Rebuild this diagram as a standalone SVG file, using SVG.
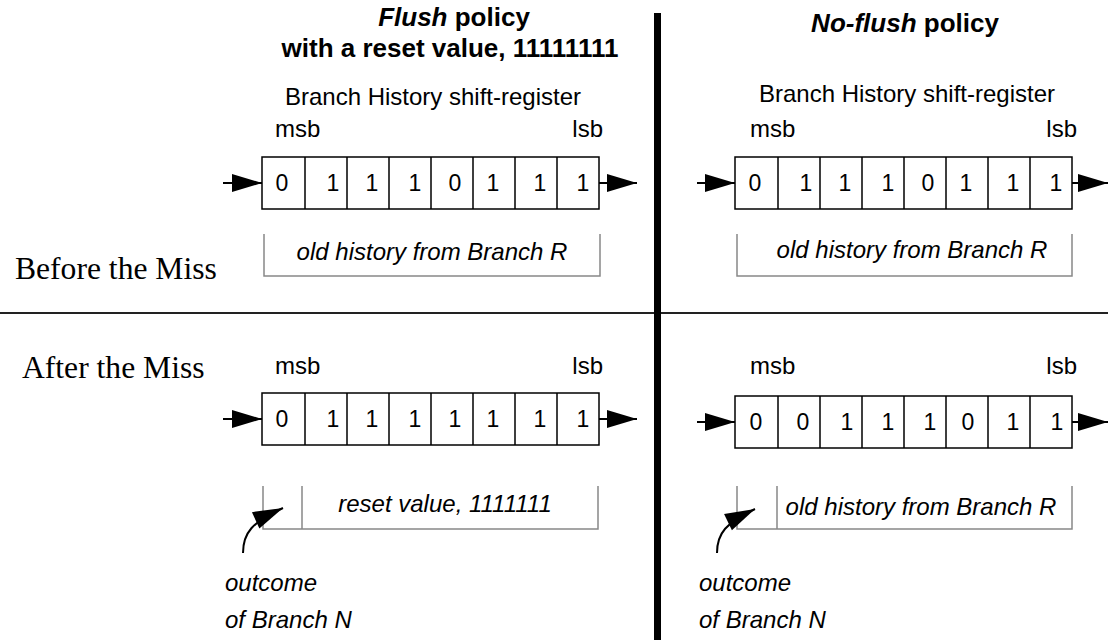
<svg xmlns="http://www.w3.org/2000/svg" width="1108" height="640" viewBox="0 0 1108 640">
  <style>
    .sans { font-family: "Liberation Sans", Arial, sans-serif; fill: #000; }
    .serif { font-family: "Liberation Serif", "Times New Roman", serif; font-size: 31.6px; fill: #000; }
    .lbl { font-size: 24px; }
    .it { font-style: italic; }
    .bold { font-weight: bold; font-size: 26px; }
    .digit { font-size: 23px; text-anchor: middle; }
    .reg { fill: #fff; stroke: #000; stroke-width: 1.5; }
    .cell { stroke: #000; stroke-width: 1.5; }
    .brk { fill: none; stroke: #888; stroke-width: 1.5; }
    .arr { fill: none; stroke: #000; stroke-width: 2; marker-end: url(#head); }
  </style>
  <defs>
    <marker id="head" markerUnits="userSpaceOnUse" markerWidth="30" markerHeight="18" refX="30" refY="9" orient="auto" overflow="visible">
      <path d="M0,0 L30,9 L0,18 z" fill="#000"/>
    </marker>
    <!-- eight-cell shift register, origin at top-left corner -->
    <g id="register">
      <rect class="reg" x="0" y="0" width="337" height="52"/>
      <path class="cell" d="M43,0V52 M85,0V52 M127,0V52 M169,0V52 M211,0V52 M253,0V52 M295,0V52"/>
    </g>
  </defs>

  <!-- dividers -->
  <g id="dividers">
    <line x1="0" y1="313" x2="1108" y2="313" stroke="#222" stroke-width="2"/>
    <rect x="654" y="13" width="7" height="627" fill="#000"/>
  </g>

  <!-- row labels -->
  <g id="row-labels">
    <text class="serif" x="15" y="279">Before the Miss</text>
    <text class="serif" x="22" y="378">After the Miss</text>
  </g>

  <!-- column headings -->
  <g id="heading-flush">
    <text class="sans bold" x="454" y="26" text-anchor="middle"><tspan class="it">Flush</tspan> policy</text>
    <text class="sans bold" x="450" y="57" text-anchor="middle">with a reset value, 11111111</text>
  </g>
  <g id="heading-noflush">
    <text class="sans bold" x="905" y="32" text-anchor="middle"><tspan class="it">No-flush</tspan> policy</text>
  </g>

  <!-- flush policy, before the miss -->
  <g id="flush-before">
    <text class="sans lbl" x="433" y="105" text-anchor="middle">Branch History shift-register</text>
    <text class="sans lbl" x="275" y="137">msb</text>
    <text class="sans lbl" x="603" y="137" text-anchor="end">lsb</text>
    <use href="#register" x="262" y="157"/>
    <g class="sans digit">
      <text x="282" y="191">0</text><text x="333" y="191">1</text><text x="372" y="191">1</text><text x="415" y="191">1</text>
      <text x="455" y="191">0</text><text x="493" y="191">1</text><text x="540" y="191">1</text><text x="583" y="191">1</text>
    </g>
    <path class="brk" d="M264,234V276H600V234"/>
    <text class="sans lbl it" x="432" y="260" text-anchor="middle">old history from Branch R</text>
  </g>

  <!-- no-flush policy, before the miss -->
  <g id="noflush-before">
    <text class="sans lbl" x="907" y="102" text-anchor="middle">Branch History shift-register</text>
    <text class="sans lbl" x="750" y="137">msb</text>
    <text class="sans lbl" x="1077" y="137" text-anchor="end">lsb</text>
    <use href="#register" x="735" y="157"/>
    <g class="sans digit">
      <text x="755" y="191">0</text><text x="806" y="191">1</text><text x="845" y="191">1</text><text x="888" y="191">1</text>
      <text x="928" y="191">0</text><text x="966" y="191">1</text><text x="1013" y="191">1</text><text x="1056" y="191">1</text>
    </g>
    <path class="brk" d="M737,234V276H1072V234"/>
    <text class="sans lbl it" x="912" y="258" text-anchor="middle">old history from Branch R</text>
  </g>

  <!-- flush policy, after the miss -->
  <g id="flush-after">
    <text class="sans lbl" x="275" y="374">msb</text>
    <text class="sans lbl" x="603" y="374" text-anchor="end">lsb</text>
    <use href="#register" x="262" y="393"/>
    <g class="sans digit">
      <text x="282" y="427">0</text><text x="333" y="427">1</text><text x="372" y="427">1</text><text x="415" y="427">1</text>
      <text x="455" y="427">1</text><text x="493" y="427">1</text><text x="540" y="427">1</text><text x="583" y="427">1</text>
    </g>
    <path class="brk" d="M263,486V529H598V486 M302,486V529"/>
    <text class="sans lbl it" x="445" y="512" text-anchor="middle">reset value, 1111111</text>
    <text class="sans lbl it" x="225" y="591">outcome</text>
    <text class="sans lbl it" x="225" y="628">of Branch N</text>
  </g>

  <!-- no-flush policy, after the miss -->
  <g id="noflush-after">
    <text class="sans lbl" x="750" y="374">msb</text>
    <text class="sans lbl" x="1077" y="374" text-anchor="end">lsb</text>
    <use href="#register" x="735" y="396"/>
    <g class="sans digit">
      <text x="756" y="430">0</text><text x="803" y="430">0</text><text x="847" y="430">1</text><text x="888" y="430">1</text>
      <text x="930" y="430">1</text><text x="968" y="430">0</text><text x="1013" y="430">1</text><text x="1057" y="430">1</text>
    </g>
    <path class="brk" d="M737,486V529H1072V486 M777,486V529"/>
    <text class="sans lbl it" x="921" y="515" text-anchor="middle">old history from Branch R</text>
    <text class="sans lbl it" x="699" y="591">outcome</text>
    <text class="sans lbl it" x="699" y="628">of Branch N</text>
  </g>

  <!-- shift-in / shift-out arrows and outcome arrows -->
  <g id="connectors">
    <line class="arr" x1="223" y1="183" x2="262" y2="183"/>
    <line class="arr" x1="599" y1="183" x2="637" y2="183"/>
    <line class="arr" x1="697" y1="183" x2="735" y2="183"/>
    <line class="arr" x1="1072" y1="183" x2="1108" y2="183"/>
    <line class="arr" x1="223" y1="419" x2="262" y2="419"/>
    <line class="arr" x1="599" y1="419" x2="637" y2="419"/>
    <line class="arr" x1="697" y1="422" x2="735" y2="422"/>
    <line class="arr" x1="1072" y1="422" x2="1108" y2="422"/>
    <path class="arr" d="M243,553 C243,533 252,522 283,508"/>
    <path class="arr" d="M717,553 C717,533 726,523 755,509"/>
  </g>
</svg>
